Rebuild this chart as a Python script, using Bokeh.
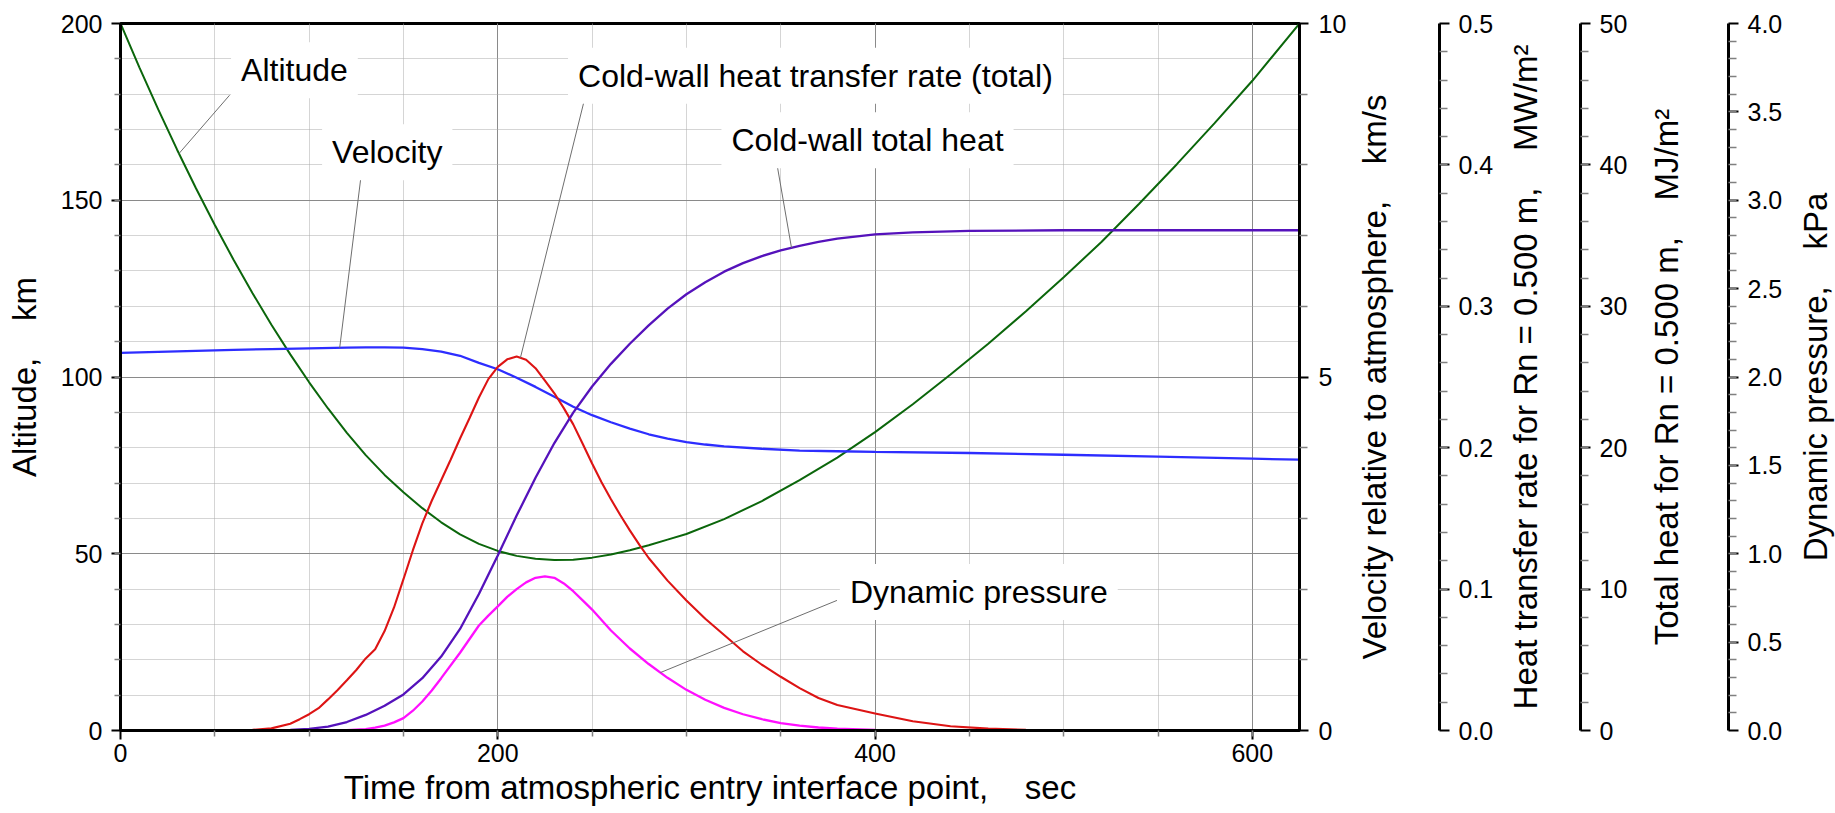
import math
import numpy as np
from bokeh.plotting import figure
from bokeh.layouts import row
from bokeh.models import Range1d, LinearAxis, FixedTicker, PrintfTickFormatter, Label
from bokeh.embed import file_html
from bokeh.resources import INLINE

FONT = "Liberation Sans"

# ---- trajectory data (time from entry interface, s) ----
alt_t = [0, 10, 20, 30, 40, 50, 60, 70, 80, 90, 100, 110, 120, 130, 140, 150, 160, 170, 180,
         190, 200, 210, 220, 230, 240, 250, 260, 270, 280, 290, 300, 320, 340, 360, 380, 400,
         420, 440, 460, 480, 500, 520, 540, 560, 580, 600, 625]
alt_km = [200, 187.6, 175.7, 164.3, 153.4, 143.0, 133.1, 123.7, 114.8, 106.4, 98.5, 91.1, 84.2,
          77.9, 72.3, 67.4, 62.9, 58.9, 55.5, 52.8, 50.8, 49.4, 48.6, 48.25, 48.3, 48.9, 49.8,
          51.0, 52.4, 54.0, 55.6, 59.8, 64.9, 70.8, 77.2, 84.4, 92.3, 100.7, 109.4, 118.6,
          128.2, 138.2, 149.0, 160.2, 171.8, 183.8, 200.0]

vel_t = [0, 20, 40, 60, 80, 100, 120, 130, 140, 150, 160, 170, 180, 190, 200, 210, 220, 230,
         240, 250, 260, 270, 280, 290, 300, 310, 320, 340, 360, 380, 400, 450, 500, 550, 600, 625]
vel_kms = [5.34, 5.355, 5.37, 5.385, 5.395, 5.405, 5.415, 5.42, 5.42, 5.415, 5.395, 5.36, 5.30,
           5.20, 5.11, 4.99, 4.86, 4.72, 4.58, 4.46, 4.36, 4.27, 4.19, 4.13, 4.08, 4.045, 4.02,
           3.985, 3.96, 3.95, 3.94, 3.925, 3.90, 3.875, 3.845, 3.83]

rate_t = [60, 70, 80, 90, 95, 100, 105, 110, 115, 120, 125, 130, 135, 140, 145, 150, 155, 160,
          165, 170, 175, 180, 185, 190, 195, 200, 205, 210, 215, 220, 225, 230, 235, 240, 245,
          250, 255, 260, 265, 270, 275, 280, 290, 300, 310, 320, 330, 340, 350, 360, 370, 380,
          390, 400, 420, 440, 460, 480, 500]
rate_mw = [0.0, 0.0005, 0.0015, 0.0048, 0.008, 0.0115, 0.0158, 0.022, 0.0285, 0.0355, 0.0428,
           0.051, 0.0575, 0.0703, 0.087, 0.107, 0.1275, 0.1465, 0.1625, 0.177, 0.1915, 0.2065,
           0.2208, 0.2355, 0.2485, 0.2572, 0.2625, 0.2645, 0.2622, 0.2562, 0.2475, 0.2385,
           0.228, 0.2165, 0.2028, 0.1888, 0.1755, 0.1635, 0.1522, 0.1415, 0.1315, 0.122, 0.106,
           0.092, 0.079, 0.0675, 0.056, 0.0465, 0.038, 0.030, 0.023, 0.018, 0.015, 0.012,
           0.0065, 0.003, 0.0013, 0.0005, 0.0]

heat_t = [80, 90, 100, 110, 120, 130, 140, 150, 160, 170, 180, 190, 200, 210, 220, 230, 240,
          250, 260, 270, 280, 290, 300, 310, 320, 330, 340, 350, 360, 370, 380, 400, 420, 450,
          500, 625]
heat_mj = [0.0, 0.04, 0.11, 0.28, 0.6, 1.1, 1.75, 2.55, 3.7, 5.23, 7.18, 9.65, 12.38, 15.2,
           17.88, 20.33, 22.48, 24.33, 25.93, 27.35, 28.65, 29.83, 30.85, 31.7, 32.45, 33.05,
           33.55, 33.95, 34.28, 34.55, 34.78, 35.08, 35.23, 35.33, 35.38, 35.38]

dyn_t = [110, 120, 130, 135, 140, 145, 150, 155, 160, 165, 170, 180, 190, 195, 200, 205, 210,
         215, 220, 225, 230, 235, 240, 245, 250, 260, 270, 280, 290, 300, 310, 320, 330, 340,
         350, 360, 370, 380, 400, 420, 440]
dyn_kpa = [0.0, 0.002, 0.008, 0.016, 0.028, 0.046, 0.07, 0.112, 0.164, 0.226, 0.296, 0.44,
           0.594, 0.65, 0.702, 0.756, 0.8, 0.838, 0.864, 0.872, 0.864, 0.832, 0.788, 0.736,
           0.684, 0.566, 0.464, 0.376, 0.298, 0.23, 0.174, 0.128, 0.092, 0.064, 0.042, 0.027,
           0.017, 0.01, 0.004, 0.001, 0.0]

# axis scales
T_MAX = 625
ALT_MAX, VEL_MAX, RATE_MAX, HEAT_MAX, DYN_MAX = 200, 10, 0.5, 50, 4.0

GREEN, BLUE, RED, PURPLE, MAGENTA = "#0b660b", "#2d2dff", "#dd1414", "#5512bb", "#ff10ff"

# page geometry (px)
PAGE_H = 813
FRAME_L, FRAME_R, FRAME_T, FRAME_B = 120, 1299, 23, 730
MAIN_W = 1350

p = figure(width=MAIN_W, height=PAGE_H, x_range=Range1d(0, T_MAX), y_range=Range1d(0, ALT_MAX),
           output_backend="svg", toolbar_location=None,
           min_border_left=FRAME_L, min_border_right=MAIN_W - FRAME_R,
           min_border_top=FRAME_T, min_border_bottom=PAGE_H - FRAME_B)
p.extra_y_ranges = {"vel": Range1d(0, VEL_MAX), "rate": Range1d(0, RATE_MAX),
                    "heat": Range1d(0, HEAT_MAX), "dyn": Range1d(0, DYN_MAX)}
p.background_fill_color = "white"
p.border_fill_color = "white"
p.outline_line_color = "black"
p.outline_line_width = 3


def style_axis(ax, standoff=9, tick_out=9, minor_out=6):
    ax.axis_line_width = 3
    ax.axis_line_color = "black"
    ax.major_tick_line_width = 2
    ax.major_tick_line_color = "black"
    ax.major_tick_out = tick_out
    ax.major_tick_in = 0
    ax.minor_tick_line_color = "#808080"
    ax.minor_tick_line_width = 1.5
    ax.minor_tick_out = minor_out
    ax.minor_tick_in = 0
    ax.major_label_text_font = FONT
    ax.major_label_text_font_size = "25px"
    ax.major_label_text_color = "black"
    ax.major_label_standoff = standoff


def style_title(ax, text, standoff):
    ax.axis_label = text
    ax.axis_label_text_font = FONT
    ax.axis_label_text_font_size = "33px"
    ax.axis_label_text_font_style = "normal"
    ax.axis_label_text_color = "black"
    ax.axis_label_standoff = standoff


# bottom / left axes
xa = p.xaxis[0]
xa.ticker = FixedTicker(ticks=[0, 200, 400, 600], minor_ticks=list(range(50, 625, 50)))
style_axis(xa, standoff=4)
style_title(xa, "Time from atmospheric entry interface point,\u00a0\u00a0\u00a0\u00a0sec", 4)

ya = p.yaxis[0]
ya.ticker = FixedTicker(ticks=[0, 50, 100, 150, 200], minor_ticks=list(range(10, 200, 10)))
style_axis(ya)
style_title(ya, "Altitude,\u00a0\u00a0\u00a0\u00a0km", 15)

# grid
for g in (p.xgrid, p.ygrid):
    g.grid_line_color = "#8a8a8a"
    g.grid_line_width = 1
    g.minor_grid_line_color = "#ababab"
    g.minor_grid_line_dash = "1 1"
    g.minor_grid_line_width = 1

# velocity axis on the frame edge
va = LinearAxis(y_range_name="vel",
                ticker=FixedTicker(ticks=[0, 5, 10], minor_ticks=[1, 2, 3, 4, 6, 7, 8, 9]))
style_axis(va, standoff=10, minor_out=8)
p.add_layout(va, "right")

# curves
p.line(alt_t, alt_km, color=GREEN, line_width=2)
p.line(vel_t, vel_kms, color=BLUE, line_width=2.3, y_range_name="vel")
p.line(rate_t, rate_mw, color=RED, line_width=2.1, y_range_name="rate")
p.line(heat_t, heat_mj, color=PURPLE, line_width=2.3, y_range_name="heat")
p.line(dyn_t, dyn_kpa, color=MAGENTA, line_width=2.3, y_range_name="dyn")

# callouts: text centre, leader start, time where the leader meets its curve
k_vel = ALT_MAX / VEL_MAX
k_rate = ALT_MAX / RATE_MAX
k_heat = ALT_MAX / HEAT_MAX
k_dyn = ALT_MAX / DYN_MAX
callouts = [
    ("Altitude", 92.2, 186.8, (57.8, 179.7), 31.0, alt_t, alt_km, 1.0),
    ("Velocity", 141.4, 163.6, (127.5, 156.8), 116.2, vel_t, vel_kms, k_vel),
    ("Cold-wall heat transfer rate (total)", 368.4, 185.2, (246.1, 178.8), 212.0,
     rate_t, rate_mw, k_rate),
    ("Cold-wall total heat", 396.0, 167.0, (348.1, 159.9), 355.7, heat_t, heat_mj, k_heat),
    ("Dynamic pressure", 455.0, 39.2, (379.8, 36.8), 286.2, dyn_t, dyn_kpa, k_dyn),
]
for text, cx, cy, (lx, ly), t_end, ts, vs, k in callouts:
    y_end = float(np.interp(t_end, ts, vs)) * k
    p.segment(x0=[lx], y0=[ly], x1=[t_end], y1=[y_end], line_color="#6e6e6e", line_width=1)
    p.add_layout(Label(x=cx, y=cy, text=text, text_font=FONT, text_font_size="32px",
                       text_align="center", text_baseline="middle", text_color="black",
                       background_fill_color="white", border_line_color=None, padding=10))


# ---- strips to the right: each holds one title and, on its right edge, the next scale ----
def strip(width, border_right, title, title_x, scale=None):
    frame_w = width - border_right
    s = figure(width=width, height=PAGE_H, x_range=Range1d(0, frame_w),
               y_range=Range1d(0, ALT_MAX), output_backend="svg", toolbar_location=None,
               x_axis_type=None, y_axis_type=None,
               min_border_left=0, min_border_right=border_right,
               min_border_top=FRAME_T, min_border_bottom=PAGE_H - FRAME_B)
    s.outline_line_color = None
    s.background_fill_color = "white"
    s.border_fill_color = "white"
    s.add_layout(Label(x=title_x, y=ALT_MAX / 2, text=title, angle=math.pi / 2,
                       text_font=FONT, text_font_size="33px", text_align="center",
                       text_baseline="middle", text_color="black"))
    if scale is not None:
        name, vmax, ticker, fmt = scale
        s.extra_y_ranges = {name: Range1d(0, vmax)}
        ax = LinearAxis(y_range_name=name, ticker=ticker, formatter=fmt)
        style_axis(ax, standoff=9, tick_out=10, minor_out=8)
        s.add_layout(ax, "right")
    return s


rate_scale = ("rate", RATE_MAX,
              FixedTicker(ticks=list(np.round(np.arange(0, 0.51, 0.1), 2)),
                          minor_ticks=list(np.round(np.arange(0.02, 0.5, 0.02), 2))),
              PrintfTickFormatter(format="%.1f"))
heat_scale = ("heat", HEAT_MAX,
              FixedTicker(ticks=list(range(0, 51, 10)), minor_ticks=list(range(2, 50, 2))),
              PrintfTickFormatter(format="%d"))
dyn_scale = ("dyn", DYN_MAX,
             FixedTicker(ticks=list(np.round(np.arange(0, 4.01, 0.5), 1)),
                         minor_ticks=list(np.round(np.arange(0.1, 4.0, 0.1), 1))),
             PrintfTickFormatter(format="%.1f"))

s1 = strip(146, 56, "Velocity relative to atmosphere,\u00a0\u00a0\u00a0\u00a0km/s", 24.0,
           rate_scale)
s2 = strip(134, 50, "Heat transfer rate for Rn = 0.500 m,\u00a0\u00a0\u00a0\u00a0MW/m\u00b2", 29.0,
           heat_scale)
s3 = strip(155, 56, "Total heat for Rn = 0.500 m,\u00a0\u00a0\u00a0\u00a0MJ/m\u00b2", 36.6,
           dyn_scale)
s4 = strip(50, 0, "Dynamic pressure,\u00a0\u00a0\u00a0\u00a0kPa", 30.0)

layout = row(p, s1, s2, s3, s4, spacing=0)
open("out.html", "w").write(file_html(layout, INLINE))
